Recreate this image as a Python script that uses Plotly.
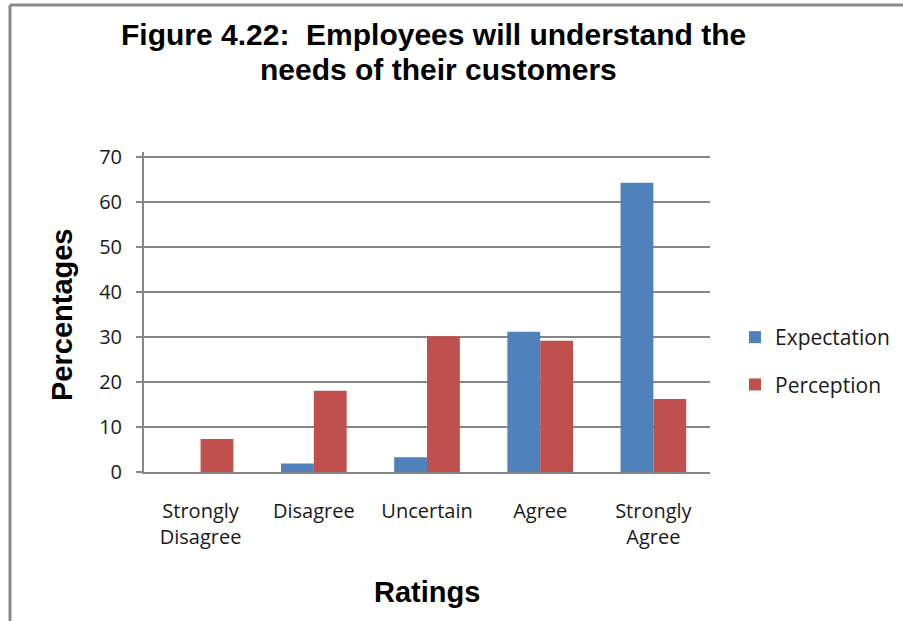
import plotly.graph_objects as go

# Survey ratings and the share of responses (%) for each
ratings = ["Strongly<br>Disagree", "Disagree", "Uncertain", "Agree", "Strongly<br>Agree"]
expectation = [0, 1.9, 3.3, 31.1, 64.2]
perception = [7.3, 18.0, 30.1, 29.1, 16.2]
y_ticks = [0, 10, 20, 30, 40, 50, 60, 70]
y_max = 71

W, H = 903, 621
L, R, T, B = 144, 193, 152, 149
pw, ph = W - L - R, H - T - B


def px(x):
    return (x - L) / pw


def py(y):
    return (H - B - y) / ph


fig = go.Figure()
fig.add_trace(go.Bar(name="Expectation", x=ratings, y=expectation, legendgroup="e",
                     marker=dict(color="#4F81BD", line=dict(width=0))))
fig.add_trace(go.Bar(name="Perception", x=ratings, y=perception, legendgroup="p",
                     marker=dict(color="#C0504D", line=dict(width=0))))

reg_family = "Open Sans, Liberation Sans, sans-serif"
tick_font = dict(family=reg_family, size=20, color="#1a1a1a")
bold_font = dict(family="Liberation Sans, Arial, sans-serif", color="#000000")

fig.update_layout(
    width=W, height=H,
    margin=dict(l=L, r=R, t=T, b=B, autoexpand=False),
    paper_bgcolor="white", plot_bgcolor="white",
    barmode="group", bargap=0.42, bargroupgap=0,
    showlegend=True,
    legend=dict(x=px(735), y=py(361), xanchor="left", yanchor="middle",
                font=dict(family=reg_family, size=21, color="#1a1a1a"),
                itemsizing="constant", itemwidth=30, tracegroupgap=17,
                bgcolor="rgba(0,0,0,0)"),
    xaxis=dict(showline=True, linecolor="#868686", linewidth=2, showgrid=False,
               ticks="", tickfont=tick_font, ticklabelstandoff=20),
    yaxis=dict(range=[0, y_max], tickvals=y_ticks, showgrid=True, gridcolor="#868686",
               gridwidth=1.5, showline=True, linecolor="#868686", linewidth=2,
               ticks="outside", ticklen=6, tickcolor="#868686", tickwidth=2,
               tickfont=tick_font, ticklabelstandoff=10, zeroline=False),
    annotations=[
        dict(text="<b>Figure 4.22:  Employees will understand the</b>", xref="paper", yref="paper",
             x=px(433), y=py(35), xanchor="center", yanchor="middle", showarrow=False,
             font=dict(size=30, **bold_font)),
        dict(text="<b>needs of their customers</b>", xref="paper", yref="paper",
             x=px(438), y=py(70), xanchor="center", yanchor="middle", showarrow=False,
             font=dict(size=30, **bold_font)),
        dict(text="<b>Percentages</b>", xref="paper", yref="paper",
             x=px(62), y=py(315), xanchor="center", yanchor="middle", showarrow=False,
             textangle=-90, font=dict(size=29, **bold_font)),
        dict(text="<b>Ratings</b>", xref="paper", yref="paper",
             x=px(427), y=py(592), xanchor="center", yanchor="middle", showarrow=False,
             font=dict(size=29, **bold_font)),
    ],
    shapes=[
        # frame around the chart area (top and left edges)
        dict(type="line", xref="paper", yref="paper", x0=px(10), y0=py(5), x1=px(W + 10), y1=py(5),
             line=dict(color="#8A8A8A", width=3)),
        dict(type="line", xref="paper", yref="paper", x0=px(10), y0=py(5), x1=px(10), y1=py(H + 10),
             line=dict(color="#8A8A8A", width=3)),
    ],
)

fig.write_html("out.html")
